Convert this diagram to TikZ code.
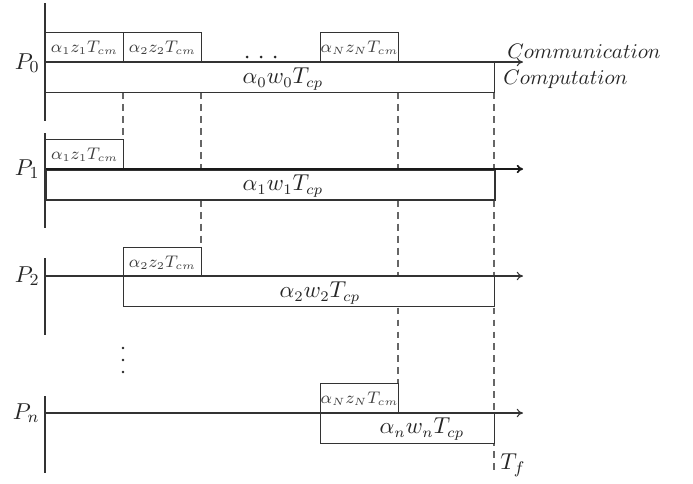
\documentclass[tikz,border=0pt]{standalone}
\usetikzlibrary{arrows.meta}
\begin{document}
\def\px{0.476pt}
\begin{tikzpicture}[x=0.476pt, y=-0.476pt,
  axis/.style={line width=1pt, draw=black!80},
  tline/.style={-{To[length=3pt,width=4pt]}, draw=black!80, line width=0.5pt},
  thickline/.style={-{To[length=3pt,width=4pt]}, draw=black!90, line width=0.8pt},
  cbox/.style={draw=black!80, fill=white, line width=0.5pt, minimum height=30*\px, inner sep=0pt, anchor=north west, font=\fontsize{7.6}{9}\selectfont, text=black!75},
  wbox/.style={draw=black!80, fill=white, line width=0.5pt, minimum height=30*\px, inner sep=0pt, anchor=north west},
  guide/.style={dash pattern=on 3.3pt off 2.4pt, draw=black!60, line width=0.5pt},
  lab/.style={inner sep=0pt, text=black!85, font=\fontsize{10.5}{13}\selectfont},
  plab/.style={inner sep=0pt, text=black!85, font=\fontsize{11}{13}\selectfont},
  side/.style={inner sep=0pt, text=black!85, font=\fontsize{10}{12}\selectfont},
  dotc/.style={fill=black!85, draw=none}
]
\useasboundingbox (0,0) rectangle (693,483);

% axes
\coordinate (t0) at (45,3);   \coordinate (b0) at (45,121);
\coordinate (t1) at (45,133); \coordinate (b1) at (45,228);
\coordinate (t2) at (45,258); \coordinate (b2) at (45,335);
\coordinate (tn) at (45,396); \coordinate (bn) at (45,473);

% timeline coordinates
\coordinate (a0) at (45,62);  \coordinate (e0) at (523,62);
\coordinate (a1) at (45,169); \coordinate (e1) at (523,169);
\coordinate (a2) at (45,276); \coordinate (e2) at (523,276);
\coordinate (an) at (45,413); \coordinate (en) at (523,413);
\coordinate (tf) at (494,473);

% process labels
\node[plab, anchor=east] (p0) at (40,63) {$P_0$};
\node[plab, anchor=east] (p1) at (40,169) {$P_1$};
\node[plab, anchor=east] (p2) at (40,276) {$P_2$};
\node[plab, anchor=east] (pn) at (40,413) {$P_n$};

% guides (behind boxes)
\draw[guide] (123,92) coordinate (g1s) -- (123,139) coordinate (g1e);
\draw[guide] (201,92) coordinate (g2s) -- (201,247) coordinate (g2e);
\draw[guide] (398,92) coordinate (g3s) -- (398,383) coordinate (g3e);
\draw[guide] (494,92) coordinate (g4s) -- (tf);

% P0
\node[cbox, minimum width=78*\px] (c01) at (45,32) {$\alpha_1 z_1 T_{cm}$};
\node[cbox, minimum width=78*\px] (c02) at (123,32) {$\alpha_2 z_2 T_{cm}$};
\fill[dotc] (247,57) circle (1.5);
\fill[dotc] (261,57) circle (1.5);
\fill[dotc] (275,57) circle (1.5);
\node[cbox, minimum width=78*\px] (c0N) at (320,32) {$\alpha_N z_N T_{cm}$};
\node[wbox, minimum width=449*\px] (w0) at (45,62) {};
\node[lab] (lw0) at (283,79) {$\alpha_0 w_0 T_{cp}$};
\draw[tline] (a0) -- (e0);
\draw[axis] (t0) -- (b0);
\node[side, anchor=west] (comm) at (507,51) {$Communication$};
\node[side, anchor=west] (comp) at (503,79) {$Computation$};

% P1
\node[cbox, minimum width=78*\px, line width=0.7pt] (c11) at (45,139) {$\alpha_1 z_1 T_{cm}$};
\node[wbox, minimum width=449*\px, line width=0.9pt] (w1) at (45,169) {};
\node[lab] (lw1) at (283,186) {$\alpha_1 w_1 T_{cp}$};
\draw[thickline] (a1) -- (e1);
\draw[axis] (t1) -- (b1);

% P2
\node[cbox, minimum width=78*\px] (c22) at (123,247) {$\alpha_2 z_2 T_{cm}$};
\node[wbox, minimum width=371*\px] (w2) at (123,276) {};
\node[lab] (lw2) at (320,293) {$\alpha_2 w_2 T_{cp}$};
\draw[tline] (a2) -- (e2);
\draw[axis] (t2) -- (b2);

% vertical dots
\fill[dotc] (123,348) circle (1.3);
\fill[dotc] (123,360) circle (1.3);
\fill[dotc] (123,372) circle (1.3);

% Pn
\node[cbox, minimum width=78*\px] (cNN) at (320,383) {$\alpha_N z_N T_{cm}$};
\node[wbox, minimum width=174*\px] (wn) at (320,413) {};
\node[lab] (lwn) at (422,429) {$\alpha_n w_n T_{cp}$};
\draw[tline] (an) -- (en);
\draw[axis] (tn) -- (bn);
\node[plab, anchor=west] (tfl) at (500,465) {$T_f$};
\end{tikzpicture}
\end{document}
